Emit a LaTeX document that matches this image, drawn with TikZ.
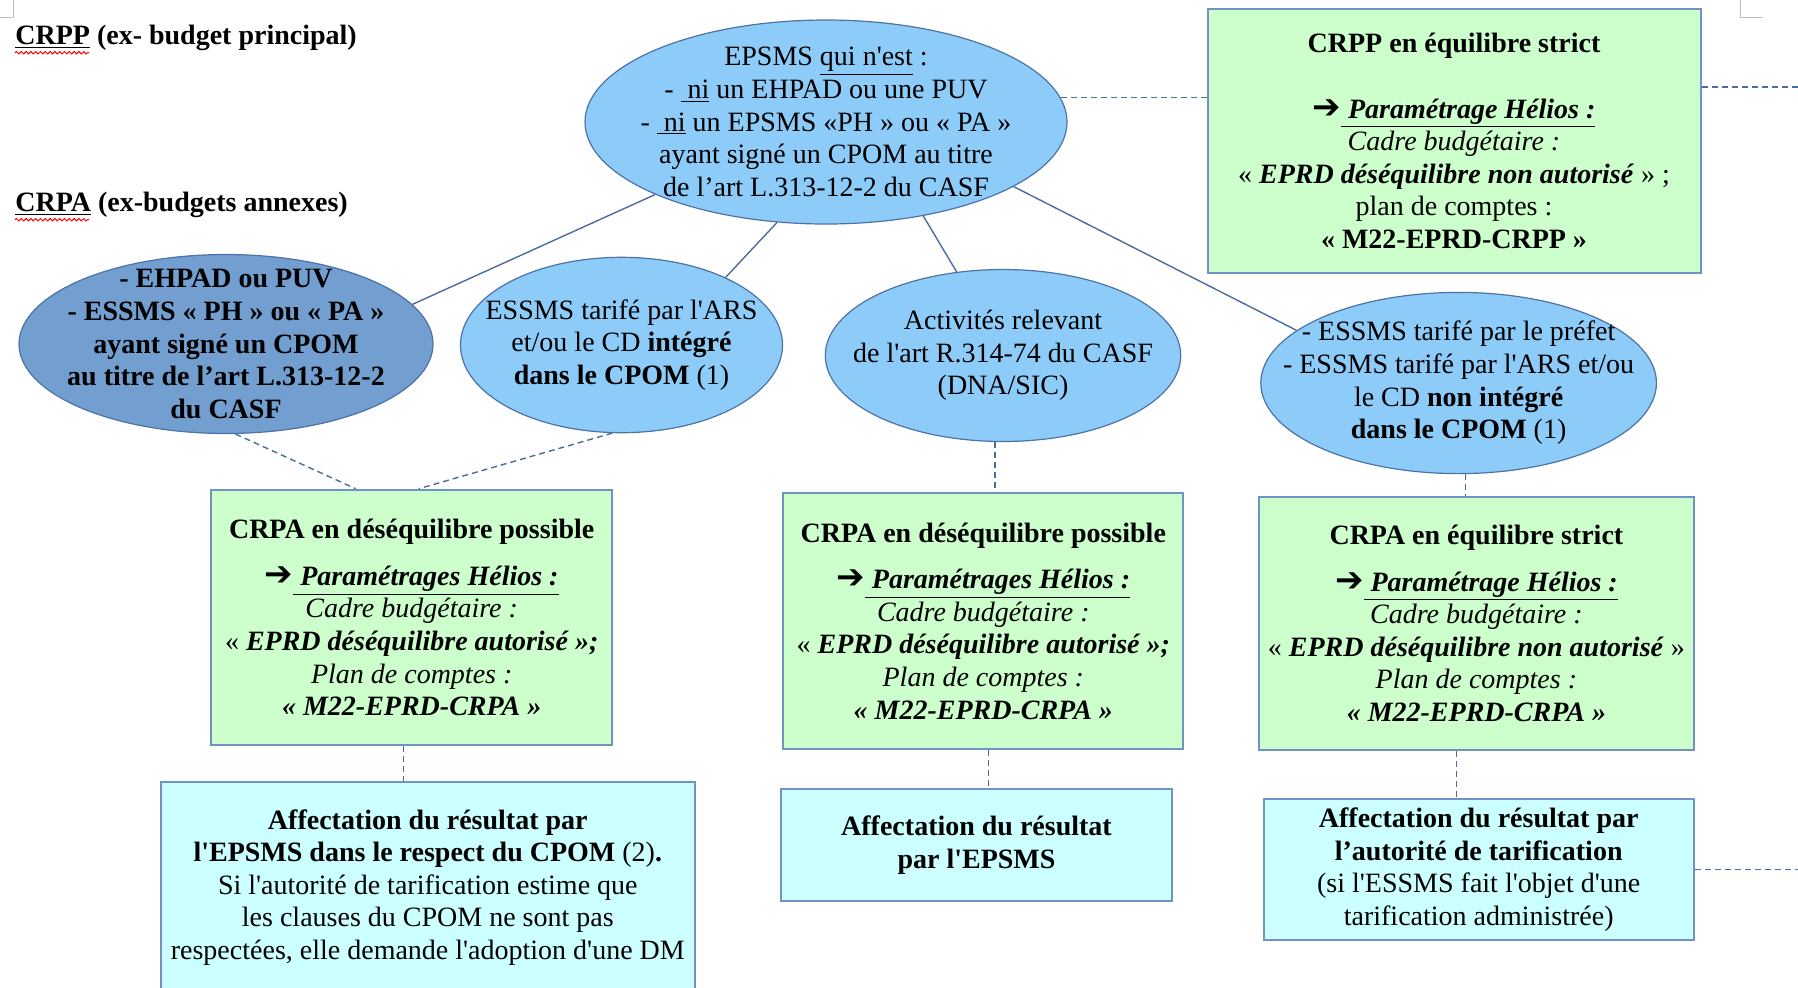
\documentclass[tikz,border=0pt]{standalone}
\usepackage{fontspec}
\setmainfont{Liberation Serif}[Ligatures=TeXOff]
\newfontfamily\dejavu{DejaVu Sans}
\usetikzlibrary{shapes.geometric,decorations.pathmorphing}
\definecolor{skyfill}{HTML}{8DCBF9}
\definecolor{deepfill}{HTML}{729FCF}
\definecolor{ovalline}{HTML}{4E72A6}
\definecolor{greenfill}{HTML}{CCFFCC}
\definecolor{cyanfill}{HTML}{CCFFFF}
\definecolor{boxline}{HTML}{7193C4}
\definecolor{linkline}{HTML}{4A6D9E}
\newcommand{\hel}{{\dejavu\bfseries\fontsize{17}{16.3}\selectfont ➔}}
\begin{document}
\begin{tikzpicture}[x=0.5pt,y=0.5pt,
  every node/.append style={font=\fontsize{14}{16.3}\selectfont,align=center},
  oval/.style={ellipse,draw=ovalline,fill=skyfill,line width=0.6pt,inner xsep=-25pt,inner ysep=-12pt},
  darkoval/.style={oval,fill=deepfill,font=\fontsize{14}{16.3}\selectfont\bfseries},
  greenbox/.style={draw=boxline,fill=greenfill,line width=1pt,inner sep=0pt},
  cyanbox/.style={draw=boxline,fill=cyanfill,line width=1pt,inner sep=0pt},
  label/.style={anchor=west,inner sep=0pt,font=\fontsize{14}{16.3}\selectfont\bfseries},
  link/.style={draw=linkline,line width=0.7pt},
  dashlink/.style={link,dash pattern=on 3pt off 2pt},
  spellmark/.style={red,line width=0.5pt,decorate,decoration={snake,amplitude=0.6pt,segment length=2.4pt}},
  cornermark/.style={draw=black!25,line width=0.5pt}]
\useasboundingbox (0,0) rectangle (1798,-987);
\clip (0,0) rectangle (1798,-987);
\coordinate (edgeR) at (1798,0);
\draw[cornermark] (0,-17) -- (13,-17) -- (13,0);
\draw[cornermark] (1740,0) -- (1740,-17) -- (1763,-17);
\node[label] (crpplab) at (15,-37.5) {\underline{CRPP} (ex- budget principal)};
\node[label] (crpalab) at (15,-204.5) {\underline{CRPA} (ex-budgets annexes)};
\draw[spellmark] ([yshift=-1pt]crpplab.south west) -- ++(74,0);
\draw[spellmark] ([yshift=-1pt]crpalab.south west) -- ++(74,0);
\node[oval,minimum width=241pt,minimum height=102pt] (epsms) at (826,-122)
  {EPSMS \underline{qui n'est} :\\- \underline{\ ni} un EHPAD ou une PUV\\- \underline{\ ni} un EPSMS «PH » ou « PA »\\ayant signé un CPOM au titre\\de l’art L.313-12-2 du CASF};
\node[darkoval,minimum width=207pt,minimum height=89.5pt] (ehpad) at (226,-344)
  {- EHPAD ou PUV\\- ESSMS « PH » ou « PA »\\ayant signé un CPOM\\au titre de l’art L.313-12-2\\du CASF};
\node[oval,minimum width=161pt,minimum height=87.7pt] (ars) at (621.5,-345)
  {ESSMS tarifé par l'ARS\\et/ou le CD \textbf{intégré}\\\textbf{dans le CPOM} (1)};
\node[oval,minimum width=177.7pt,minimum height=86pt] (dna) at (1003,-355.5)
  {Activités relevant\\de l'art R.314-74 du CASF\\(DNA/SIC)};
\node[oval,minimum width=197.8pt,minimum height=90.6pt] (prefet) at (1458.6,-383)
  {- ESSMS tarifé par le préfet\\- ESSMS tarifé par l'ARS et/ou\\le CD \textbf{non intégré}\\\textbf{dans le CPOM} (1)};
\node[greenbox,minimum width=246.5pt,minimum height=132pt] (crpp) at (1454,-141)
  {\textbf{CRPP en équilibre strict}\\[16.3pt]\hel\underline{\ \textbf{\textit{Paramétrage Hélios :}}}\\\textit{Cadre budgétaire :}\\« \textbf{\textit{EPRD déséquilibre non autorisé}} » ;\\plan de comptes :\\\textbf{« M22-EPRD-CRPP »}};
\node[greenbox,minimum width=200.6pt,minimum height=127.8pt] (possL) at (411.7,-617.5)
  {\textbf{CRPA en déséquilibre possible}\\[7pt]\hel\underline{\ \textbf{\textit{Paramétrages Hélios :}}}\\\textit{Cadre budgétaire :}\\« \textbf{\textit{EPRD déséquilibre autorisé »;}}\\\textit{Plan de comptes :}\\\textbf{\textit{« M22-EPRD-CRPA »}}};
\node[greenbox,minimum width=200pt,minimum height=127.9pt] (possM) at (983.3,-621)
  {\textbf{CRPA en déséquilibre possible}\\[7pt]\hel\underline{\ \textbf{\textit{Paramétrages Hélios :}}}\\\textit{Cadre budgétaire :}\\« \textbf{\textit{EPRD déséquilibre autorisé »;}}\\\textit{Plan de comptes :}\\\textbf{\textit{« M22-EPRD-CRPA »}}};
\node[greenbox,minimum width=217.3pt,minimum height=126.7pt] (strict) at (1476.4,-623.3)
  {\textbf{CRPA en équilibre strict}\\[7pt]\hel\underline{\ \textbf{\textit{Paramétrage Hélios :}}}\\\textit{Cadre budgétaire :}\\« \textbf{\textit{EPRD déséquilibre non autorisé}} »\\\textit{Plan de comptes :}\\\textbf{\textit{« M22-EPRD-CRPA »}}};
\node[cyanbox,minimum width=267.2pt,minimum height=105.5pt] (cpom) at (427.8,-887.5)
  {\textbf{Affectation du résultat par}\\\textbf{l'EPSMS dans le respect du CPOM} (2)\textbf{.}\\Si l'autorité de tarification estime que\\les clauses du CPOM ne sont pas\\respectées, elle demande l'adoption d'une DM};
\node[cyanbox,minimum width=195.5pt,minimum height=56pt] (epsmsres) at (976.5,-845)
  {\textbf{Affectation du résultat}\\\textbf{par l'EPSMS}};
\node[cyanbox,minimum width=215pt,minimum height=70.5pt] (tarif) at (1478.7,-869.7)
  {\textbf{Affectation du résultat par}\\\textbf{l’autorité de tarification}\\(si l'ESSMS fait l'objet d'une\\tarification administrée)};
\draw[link] (epsms.203) -- (ehpad.12);
\draw[link] (epsms.244) -- (ars.33);
\draw[link] (epsms.316) -- (dna.119);
\draw[link] (epsms.341) -- (prefet.162);
\draw[dashlink] (epsms.6) -- (epsms.6 -| crpp.west);
\draw[dashlink] ([yshift=27pt]crpp.east) -- ([yshift=27pt]crpp.east -| edgeR);
\draw[dashlink] (ehpad.276) -- ([xshift=-28pt]possL.north);
\draw[dashlink] (ars.264) -- ([xshift=3.5pt]possL.north);
\coordinate (dnafoot) at ([xshift=-4pt]dna.south);
\draw[dashlink] (dnafoot) -- (dnafoot |- possM.north);
\coordinate (prefetfoot) at ([xshift=3.5pt]prefet.south);
\draw[dashlink] (prefetfoot) -- (prefetfoot |- strict.north);
\coordinate (possLfoot) at ([xshift=-4pt]possL.south);
\draw[dashlink] (possLfoot) -- (possLfoot |- cpom.north);
\coordinate (possMfoot) at ([xshift=2.5pt]possM.south);
\draw[dashlink] (possMfoot) -- (possMfoot |- epsmsres.north);
\coordinate (strictfoot) at ([xshift=-10pt]strict.south);
\draw[dashlink] (strictfoot) -- (strictfoot |- tarif.north);
\draw[dashlink] (tarif.east) -- (tarif.east -| edgeR);
\end{tikzpicture}
\end{document}
